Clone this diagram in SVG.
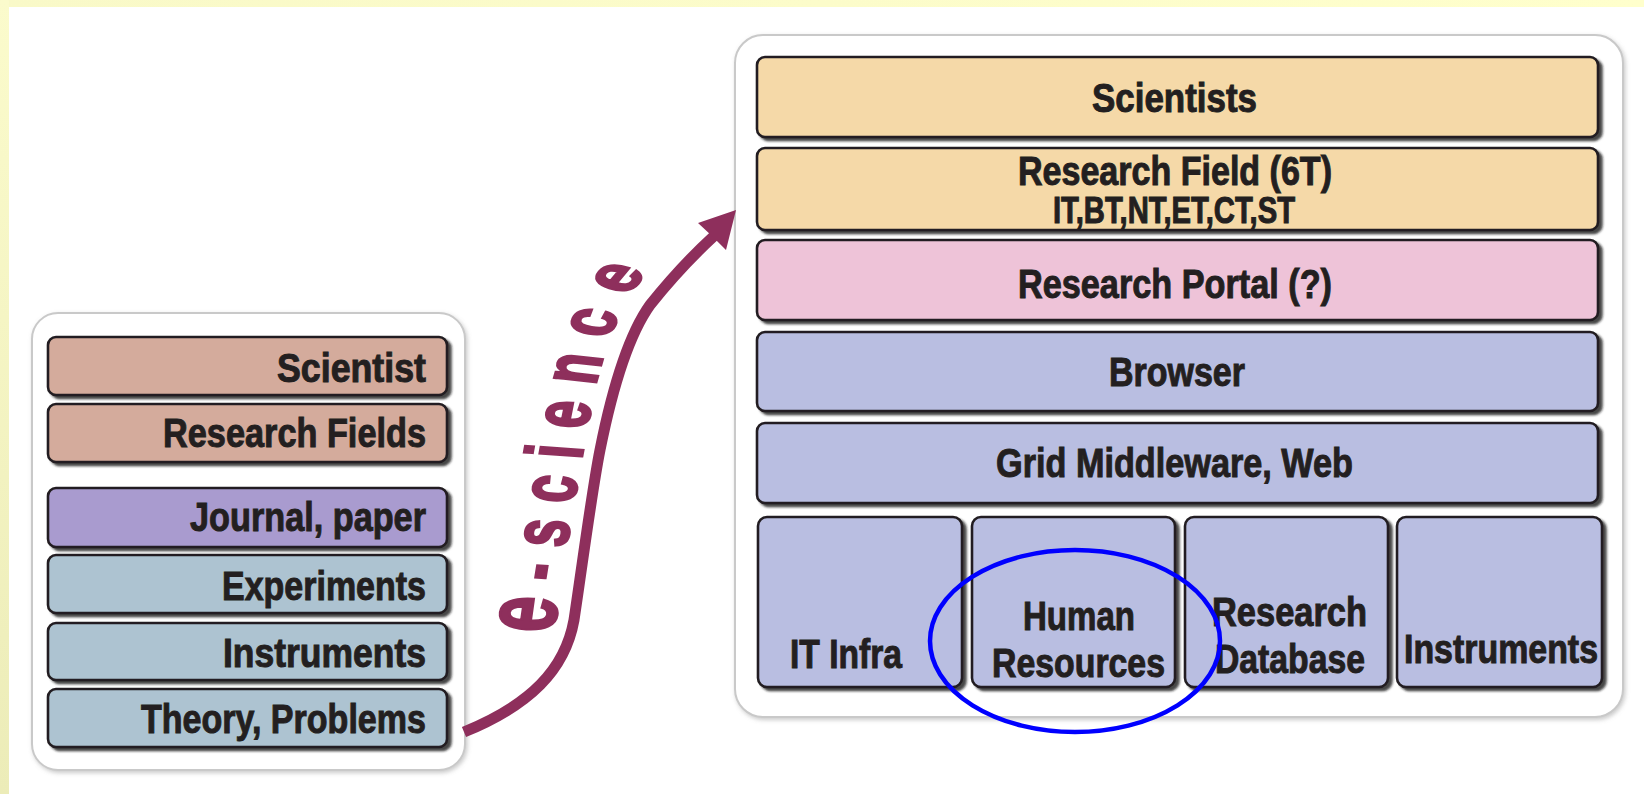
<svg xmlns="http://www.w3.org/2000/svg" width="1644" height="794" viewBox="0 0 1644 794">
  <defs>
    <linearGradient id="edgeLeft" x1="0" y1="0" x2="0" y2="1">
      <stop offset="0" stop-color="#fbfbcc"/>
      <stop offset="1" stop-color="#ececb8"/>
    </linearGradient>
    <linearGradient id="edgeTop" x1="0" y1="0" x2="1" y2="0">
      <stop offset="0" stop-color="#f9f9c8"/>
      <stop offset="1" stop-color="#ffffcc"/>
    </linearGradient>
    <filter id="boxShadow" x="-5%" y="-10%" width="115%" height="130%">
      <feDropShadow dx="3.5" dy="3" stdDeviation="1.3" flood-color="#1e1e1e" flood-opacity="0.8"/>
    </filter>
    <filter id="panelShadow" x="-5%" y="-5%" width="110%" height="110%">
      <feDropShadow dx="1.5" dy="2" stdDeviation="2" flood-color="#8a8a8a" flood-opacity="0.45"/>
    </filter>
    <style>
      .panel { fill: #ffffff; stroke: #c9c9c9; stroke-width: 2; filter: url(#panelShadow); }
      .box { stroke: #231f20; stroke-width: 2.6; filter: url(#boxShadow); }
      .rose { fill: #d4ab9c; }
      .lilac { fill: #a99bcf; }
      .steel { fill: #adc3d1; }
      .peach { fill: #f5d9a8; }
      .pink { fill: #eec3d8; }
      .periwinkle { fill: #b9bee1; }
      .lbl { font-family: "Liberation Sans", Arial, sans-serif; font-weight: bold; font-size: 41px; fill: #231f20; stroke: #231f20; stroke-width: 1; }
      .sub { font-size: 36px; }
      .arrow { fill: none; stroke: #8e2f5c; stroke-width: 11; stroke-linecap: butt; }
      .arrowhead { fill: #8e2f5c; }
      .tag { font-family: "Liberation Sans", Arial, sans-serif; font-weight: bold; font-size: 80px; letter-spacing: 27px; fill: #8e2f5c; stroke: #8e2f5c; stroke-width: 3; }
      .mark { fill: none; stroke: #0000ff; stroke-width: 4.5; }
    </style>
    <!-- baseline for the arrow caption, drawn in a frame squeezed to 0.62 vertically -->
    <path id="tagPath" d="M 553 1022 C 555 1000 557 983.9 558 967.7 C 566 879 576 790.3 584 717.7 C 594 629 604 540.3 632 471 C 644 441.9 658 419.4 678 390.3 C 692 370 707 355 722 340"/>
  </defs>

  <!-- page background with a pale yellow rim on top and left -->
  <rect x="0" y="0" width="1644" height="794" fill="#ffffff"/>
  <rect x="0" y="0" width="1644" height="7" fill="url(#edgeTop)"/>
  <rect x="0" y="0" width="9" height="794" fill="url(#edgeLeft)"/>

  <!-- left panel: traditional research stack -->
  <g id="panel-traditional">
    <rect class="panel" x="32" y="313" width="433" height="457" rx="26"/>
  </g>
  <g id="node-scientist">
    <rect class="box rose" x="48" y="337" width="399" height="58" rx="8"/>
    <text class="lbl" x="277" y="382" textLength="149" lengthAdjust="spacingAndGlyphs">Scientist</text>
  </g>
  <g id="node-research-fields">
    <rect class="box rose" x="48" y="404" width="399" height="58" rx="8"/>
    <text class="lbl" x="163" y="447" textLength="263" lengthAdjust="spacingAndGlyphs">Research Fields</text>
  </g>
  <g id="node-journal">
    <rect class="box lilac" x="48" y="488" width="399" height="59" rx="8"/>
    <text class="lbl" x="190" y="531" textLength="236" lengthAdjust="spacingAndGlyphs">Journal, paper</text>
  </g>
  <g id="node-experiments">
    <rect class="box steel" x="48" y="555" width="399" height="58" rx="8"/>
    <text class="lbl" x="222" y="600" textLength="204" lengthAdjust="spacingAndGlyphs">Experiments</text>
  </g>
  <g id="node-instruments-left">
    <rect class="box steel" x="48" y="623" width="399" height="57" rx="8"/>
    <text class="lbl" x="223" y="667" textLength="203" lengthAdjust="spacingAndGlyphs">Instruments</text>
  </g>
  <g id="node-theory">
    <rect class="box steel" x="48" y="689" width="399" height="58" rx="8"/>
    <text class="lbl" x="141" y="733" textLength="285" lengthAdjust="spacingAndGlyphs">Theory, Problems</text>
  </g>

  <!-- right panel: e-science stack -->
  <g id="panel-escience">
    <rect class="panel" x="735" y="35" width="888" height="682" rx="28"/>
  </g>
  <g id="node-scientists">
    <rect class="box peach" x="757" y="57" width="841" height="80" rx="8"/>
    <text class="lbl" x="1092" y="112" textLength="165" lengthAdjust="spacingAndGlyphs">Scientists</text>
  </g>
  <g id="node-research-field">
    <rect class="box peach" x="757" y="148" width="841" height="82" rx="8"/>
    <text class="lbl" x="1018" y="185" textLength="314" lengthAdjust="spacingAndGlyphs">Research Field (6T)</text>
    <text class="lbl sub" x="1053" y="223" textLength="242" lengthAdjust="spacingAndGlyphs">IT,BT,NT,ET,CT,ST</text>
  </g>
  <g id="node-portal">
    <rect class="box pink" x="757" y="240" width="841" height="80" rx="8"/>
    <text class="lbl" x="1018" y="298" textLength="314" lengthAdjust="spacingAndGlyphs">Research Portal (?)</text>
  </g>
  <g id="node-browser">
    <rect class="box periwinkle" x="757" y="332" width="841" height="79" rx="8"/>
    <text class="lbl" x="1109" y="386" textLength="136" lengthAdjust="spacingAndGlyphs">Browser</text>
  </g>
  <g id="node-middleware">
    <rect class="box periwinkle" x="757" y="423" width="841" height="80" rx="8"/>
    <text class="lbl" x="996" y="477" textLength="357" lengthAdjust="spacingAndGlyphs">Grid Middleware, Web</text>
  </g>
  <g id="node-it-infra">
    <rect class="box periwinkle" x="758" y="517" width="204" height="170" rx="9"/>
    <text class="lbl" x="790" y="668" textLength="112" lengthAdjust="spacingAndGlyphs">IT Infra</text>
  </g>
  <g id="node-human-resources">
    <rect class="box periwinkle" x="972" y="517" width="203" height="170" rx="9"/>
    <text class="lbl" x="1023" y="630" textLength="112" lengthAdjust="spacingAndGlyphs">Human</text>
    <text class="lbl" x="992" y="677" textLength="173" lengthAdjust="spacingAndGlyphs">Resources</text>
  </g>
  <g id="node-research-database">
    <rect class="box periwinkle" x="1185" y="517" width="203" height="170" rx="9"/>
    <text class="lbl" x="1212" y="626" textLength="155" lengthAdjust="spacingAndGlyphs">Research</text>
    <text class="lbl" x="1215" y="673" textLength="150" lengthAdjust="spacingAndGlyphs">Database</text>
  </g>
  <g id="node-instruments-right">
    <rect class="box periwinkle" x="1397" y="517" width="205" height="170" rx="9"/>
    <text class="lbl" x="1404" y="663" textLength="194" lengthAdjust="spacingAndGlyphs">Instruments</text>
  </g>

  <!-- connector: curved e-science arrow from the old stack to the new one -->
  <g id="connectors">
    <path class="arrow" d="M 464 732 C 530 705 565 670 574 620 C 583 560 592 490 600 450 C 610 400 625 340 650 305 C 670 280 690 258 714 236"/>
    <polygon class="arrowhead" points="736,210 698,223 712,236 726,250"/>
    <g transform="scale(1 0.62)">
      <text class="tag"><textPath href="#tagPath"><tspan font-size="104">e</tspan>-science</textPath></text>
    </g>
  </g>

  <!-- highlight around Human Resources -->
  <ellipse class="mark" cx="1075" cy="641" rx="145" ry="91"/>
</svg>
